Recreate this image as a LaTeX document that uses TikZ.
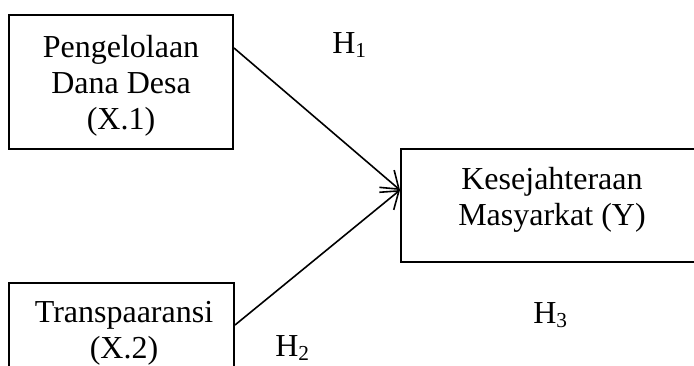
\documentclass[tikz,border=0pt]{standalone}
\usepackage{fontspec}
\setmainfont{Liberation Serif}
\usetikzlibrary{arrows.meta}
\tikzset{
  box/.style={draw, line width=1.5pt, rectangle, inner sep=0pt},
  txt/.style={align=center, inner sep=0pt, font=\fontsize{24}{27}\selectfont},
  hlab/.style={anchor=base west, inner sep=0pt, font=\fontsize{24}{27}\selectfont},
  arr/.style={line width=1.2pt, -{Straight Barb[length=12pt,width=17pt,line width=1.2pt]}}
}
\newcommand{\hsub}[1]{H\raisebox{-3pt}{\fontsize{16}{16}\selectfont #1}}
\begin{document}
\begin{tikzpicture}[x=0.75pt,y=-0.75pt]
\useasboundingbox (0,0) rectangle (694,365);
\clip (0,0) rectangle (694,365);
\node[box, minimum width=168pt, minimum height=100.5pt] (b1) at (121,82) {};
\node[box, minimum width=168.75pt, minimum height=100.5pt] (b2) at (121.5,350) {};
\node[box, minimum width=225pt, minimum height=84.75pt] (b3) at (551,205.5) {};
\node[txt] (t1) at (121,86) {Pengelolaan\\Dana Desa\\(X.1)};
\node[txt] (t2) at (124,333) {Transpaaransi\\(X.2)};
\node[txt] (t3) at (552,199.5) {Kesejahteraan\\Masyarkat (Y)};
\node[hlab] (h1) at (332,53) {\hsub{1}};
\node[hlab] (h2) at (275,356) {\hsub{2}};
\node[hlab] (h3) at (533,323) {\hsub{3}};
\coordinate (tip) at ([yshift=11.6pt]b3.west);
\draw[arr] ([yshift=25.5pt]b1.east) -- (tip);
\draw[arr] ([yshift=18.75pt]b2.east) -- (tip);
\end{tikzpicture}
\end{document}
